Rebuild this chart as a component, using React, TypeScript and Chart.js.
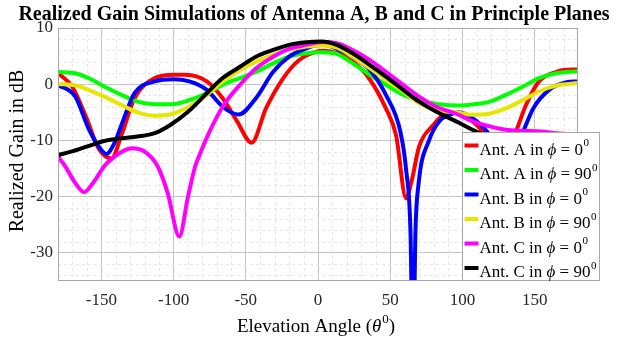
import { useEffect, useRef } from 'react';
import { Chart, registerables } from 'chart.js';

Chart.register(...registerables);

// ---- data ----
const xTicks = [-150, -100, -50, 0, 50, 100, 150];
const yTicks = [-30, -20, -10, 0, 10];
const xMinorStep = 10;
const yMinorStep = 2;

const antennaNames = ['A', 'A', 'B', 'B', 'C', 'C'];
const phiValues = ['0', '90', '0', '90', '0', '90'];
const seriesColors = ['#ff0000', '#00ff00', '#0000ff', '#e6e600', '#ff00ff', '#000000'];

const aPhi0Angle = [-180, -170, -160, -152, -143, -136, -127, -113, -100, -92, -77, -66, -56, -46, -36, -24, -13, -1, 4, 24, 36, 47, 54, 61, 65, 70, 80, 87, 93, 100, 107, 114, 121, 127, 133, 137, 144, 153, 165, 176, 180];
const aPhi0Gain = [2.0, -0.5, -6.2, -11.4, -13.2, -9.0, -2.5, 1.1, 1.7, 1.7, 0.5, -2.5, -6.6, -10.4, -4.3, 1.1, 4.3, 5.8, 5.95, 4.0, 0.8, -4.3, -9.0, -20.3, -17.0, -11.1, -7.2, -5.4, -5.0, -5.4, -6.6, -8.4, -10.5, -11.5, -10.5, -8.4, -3.7, 0.5, 2.2, 2.6, 2.6];

const aPhi90Angle = [-180, -168, -159, -148, -136, -125, -113, -101, -90, -77, -66, -54, -43, -31, -20, -8, 3, 13, 24, 36, 47, 59, 70, 82, 98, 107, 119, 130, 142, 153, 165, 180];
const aPhi90Gain = [2.2, 1.95, 1.1, -0.4, -1.9, -3.1, -3.55, -3.55, -2.9, -1.6, -0.1, 1.1, 2.2, 3.7, 4.9, 5.5, 5.7, 5.4, 3.7, 1.65, -0.1, -1.9, -2.8, -3.5, -3.8, -3.6, -3.1, -1.9, -0.4, 1.1, 1.95, 2.3];

const bPhi0Angle = [-180, -168, -159, -152, -146.5, -141, -136, -127, -113, -100, -89, -77, -66, -55, -43, -31, -20, -8, 3, 13, 24, 36, 47, 57, 61, 64, 65.8, 67.5, 69.5, 77, 85, 89, 97, 110, 117, 125, 131, 137, 142, 149, 160, 172, 180];
const bPhi0Gain = [-0.1, -2.2, -7.8, -11.0, -12.4, -10.5, -7.2, -1.6, 0.5, 0.9, 0.5, -1.0, -4.0, -5.4, -2.5, 2.2, 4.9, 6.4, 7.0, 6.3, 4.9, 2.5, -1.9, -8.4, -15.2, -26.0, -50.0, -26.0, -18.0, -9.9, -6.3, -5.7, -5.0, -6.6, -8.4, -11.0, -12.0, -11.0, -8.4, -4.3, -1.0, 0.35, 0.5];

const bPhi90Angle = [-180, -168, -159, -148, -136, -125, -113, -101, -90, -77, -66, -54, -43, -31, -20, -8, 2, 13, 24, 36, 47, 59, 70, 82, 96, 107, 119, 130, 142, 153, 165, 180];
const bPhi90Gain = [0.05, -0.2, -1.0, -2.2, -3.7, -5.0, -5.6, -5.3, -4.1, -1.9, 0.5, 2.5, 4.0, 5.2, 6.1, 6.7, 6.9, 6.5, 4.9, 2.8, 0.8, -1.3, -3.4, -4.6, -5.0, -5.45, -5.2, -4.3, -2.8, -1.3, -0.25, 0.2];

const cPhi0Angle = [-180, -175, -168, -162, -155, -148, -141, -129, -120, -111, -104, -96, -90, -85, -82, -75, -66, -54, -43, -31, -20, -8, 3, 13, 24, 36, 47, 59, 70, 82, 96, 107, 119, 130, 142, 154, 165, 180];
const cPhi0Gain = [-12.9, -14.6, -17.6, -19.2, -17.3, -14.6, -12.9, -11.4, -12.0, -14.6, -19.4, -27.1, -20.0, -14.6, -12.6, -8.4, -4.0, -0.1, 2.8, 4.9, 6.3, 7.0, 7.5, 7.3, 6.1, 4.3, 2.2, -0.1, -2.2, -4.0, -5.3, -6.6, -7.5, -8.1, -8.3, -8.4, -8.7, -9.0];

const cPhi90Angle = [-180, -171, -159, -148, -136, -125, -113, -102, -90, -77, -66, -54, -43, -31, -20, -8, 2, 13, 24, 36, 47, 59, 70, 82, 98, 107, 115, 130, 150, 180];
const cPhi90Gain = [-12.6, -12.0, -11.0, -10.1, -9.6, -9.3, -8.7, -7.2, -4.9, -1.6, 1.1, 3.1, 4.9, 6.1, 7.0, 7.45, 7.6, 7.0, 5.5, 3.4, 1.35, -1.0, -3.1, -4.9, -6.9, -8.1, -9.0, -10.2, -11.2, -12.6];

const seriesAngles = [aPhi0Angle, aPhi90Angle, bPhi0Angle, bPhi90Angle, cPhi0Angle, cPhi90Angle];
const seriesGains = [aPhi0Gain, aPhi90Gain, bPhi0Gain, bPhi90Gain, cPhi0Gain, cPhi90Gain];

const titleText = 'Realized Gain Simulations of Antenna A, B and C in Principle Planes';
const yTitleText = 'Realized Gain in dB';

const SERIF = '"Liberation Serif", "Times New Roman", serif';

const decoPlugin = {
  id: 'deco',
  beforeDatasetsDraw(chart: any) {
    const { ctx, chartArea: a, scales } = chart;
    const xs = scales.x, ys = scales.y;
    ctx.save();
    ctx.strokeStyle = '#e6e6e6';
    ctx.lineWidth = 1;
    ctx.setLineDash([3, 3]);
    for (let v = -180 + xMinorStep; v < 180; v += xMinorStep) {
      if (xTicks.includes(v)) continue;
      const px = Math.round(xs.getPixelForValue(v)) + 0.5;
      ctx.beginPath();
      ctx.moveTo(px, a.top);
      ctx.lineTo(px, a.bottom);
      ctx.stroke();
    }
    for (let v = -34; v < 10; v += yMinorStep) {
      if (yTicks.includes(v)) continue;
      const py = Math.round(ys.getPixelForValue(v)) + 0.5;
      ctx.beginPath();
      ctx.moveTo(a.left, py);
      ctx.lineTo(a.right, py);
      ctx.stroke();
    }
    ctx.restore();
  },
  afterDatasetsDraw(chart: any) {
    const { ctx, chartArea: a } = chart;
    ctx.save();
    // plot box
    ctx.strokeStyle = '#a6a6a6';
    ctx.lineWidth = 1;
    ctx.strokeRect(Math.round(a.left) + 0.5, Math.round(a.top) + 0.5, Math.round(a.right - a.left) - 1, Math.round(a.bottom - a.top) - 1);

    // legend
    const lx = 462.5, ly = 132.5, lw = 137, lh = 148;
    ctx.fillStyle = '#ffffff';
    ctx.fillRect(lx, ly, lw, lh);
    ctx.strokeStyle = '#a6a6a6';
    ctx.strokeRect(lx, ly, lw, lh);
    ctx.textBaseline = 'alphabetic';
    ctx.textAlign = 'left';
    for (let i = 0; i < antennaNames.length; i++) {
      const base = 154.5 + i * 24.5;
      ctx.strokeStyle = seriesColors[i];
      ctx.lineWidth = 4;
      ctx.beginPath();
      ctx.moveTo(464.5, base - 9);
      ctx.lineTo(478.5, base - 9);
      ctx.stroke();
      let x = 479.5;
      ctx.fillStyle = '#000000';
      ctx.font = `17px ${SERIF}`;
      const p1 = `Ant. ${antennaNames[i]} in `;
      ctx.fillText(p1, x, base);
      x += ctx.measureText(p1).width;
      ctx.font = `italic 17px ${SERIF}`;
      ctx.fillText('ϕ', x, base);
      x += ctx.measureText('ϕ').width;
      ctx.font = `17px ${SERIF}`;
      const p2 = ` = ${phiValues[i]}`;
      ctx.fillText(p2, x, base);
      x += ctx.measureText(p2).width;
      ctx.font = `11px ${SERIF}`;
      ctx.fillText('0', x + 0.5, base - 8.5);
    }
    ctx.restore();
  },
  afterDraw(chart: any) {
    const { ctx } = chart;
    ctx.save();
    ctx.fillStyle = '#000000';
    // title
    ctx.font = `bold 20px ${SERIF}`;
    ctx.textAlign = 'center';
    ctx.textBaseline = 'alphabetic';
    ctx.fillText(titleText, 314, 20);

    // x title
    ctx.textAlign = 'left';
    const s1 = 'Elevation Angle (';
    const sTheta = 'θ';
    const sSup = '0';
    const s3 = ')';
    ctx.font = `19px ${SERIF}`;
    const w1 = ctx.measureText(s1).width;
    const w3 = ctx.measureText(s3).width;
    ctx.font = `italic 19px ${SERIF}`;
    const wT = ctx.measureText(sTheta).width;
    ctx.font = `13px ${SERIF}`;
    const wS = ctx.measureText(sSup).width;
    const total = w1 + wT + wS + w3 + 1;
    let x = 316 - total / 2;
    const base = 332;
    ctx.font = `19px ${SERIF}`;
    ctx.fillText(s1, x, base);
    x += w1;
    ctx.font = `italic 19px ${SERIF}`;
    ctx.fillText(sTheta, x, base);
    x += wT + 1;
    ctx.font = `13px ${SERIF}`;
    ctx.fillText(sSup, x, base - 9);
    x += wS;
    ctx.font = `19px ${SERIF}`;
    ctx.fillText(s3, x, base);

    // y title
    ctx.translate(23, 151);
    ctx.rotate(-Math.PI / 2);
    ctx.textAlign = 'center';
    ctx.font = `20px ${SERIF}`;
    ctx.fillText(yTitleText, 0, 0);
    ctx.restore();
  },
};

export default function App() {
  const ref = useRef<HTMLCanvasElement | null>(null);
  useEffect(() => {
    document.body.style.margin = '0';
    const canvas = ref.current;
    if (!canvas) return;
    const datasets = seriesAngles.map((angles, i) => ({
      label: `Ant. ${antennaNames[i]} in ϕ = ${phiValues[i]}⁰`,
      data: angles.map((a, j) => ({ x: a, y: seriesGains[i][j] })),
      borderColor: seriesColors[i],
      backgroundColor: seriesColors[i],
      borderWidth: 4,
      pointRadius: 0,
      fill: false,
      cubicInterpolationMode: 'monotone' as const,
      order: seriesAngles.length - i,
    }));
    const chart = new Chart(canvas, {
      type: 'line',
      data: { datasets },
      plugins: [decoPlugin],
      options: {
        animation: false,
        responsive: false,
        devicePixelRatio: 1,
        layout: { padding: { top: 28, right: 44, left: 0, bottom: 0 } },
        plugins: { legend: { display: false }, title: { display: false }, tooltip: { enabled: false } },
        scales: {
          x: {
            type: 'linear',
            min: -180,
            max: 180,
            afterBuildTicks: (s: any) => { s.ticks = xTicks.map((v) => ({ value: v })); },
            afterFit: (s: any) => { s.height = 64; },
            grid: { color: '#c4c4c4', drawTicks: false, lineWidth: 1 },
            border: { display: false },
            ticks: { font: { family: SERIF, size: 17 }, color: '#262626', padding: 9, maxRotation: 0 },
          },
          y: {
            type: 'linear',
            min: -35,
            max: 10,
            afterBuildTicks: (s: any) => { s.ticks = yTicks.map((v) => ({ value: v })); },
            afterFit: (s: any) => { s.width = 58; },
            grid: { color: '#c4c4c4', drawTicks: false, lineWidth: 1 },
            border: { display: false },
            ticks: { font: { family: SERIF, size: 17 }, color: '#262626', padding: 5 },
          },
        },
      },
    });
    return () => chart.destroy();
  }, []);
  return <canvas ref={ref} width={622} height={345} style={{ display: 'block' }} />;
}
